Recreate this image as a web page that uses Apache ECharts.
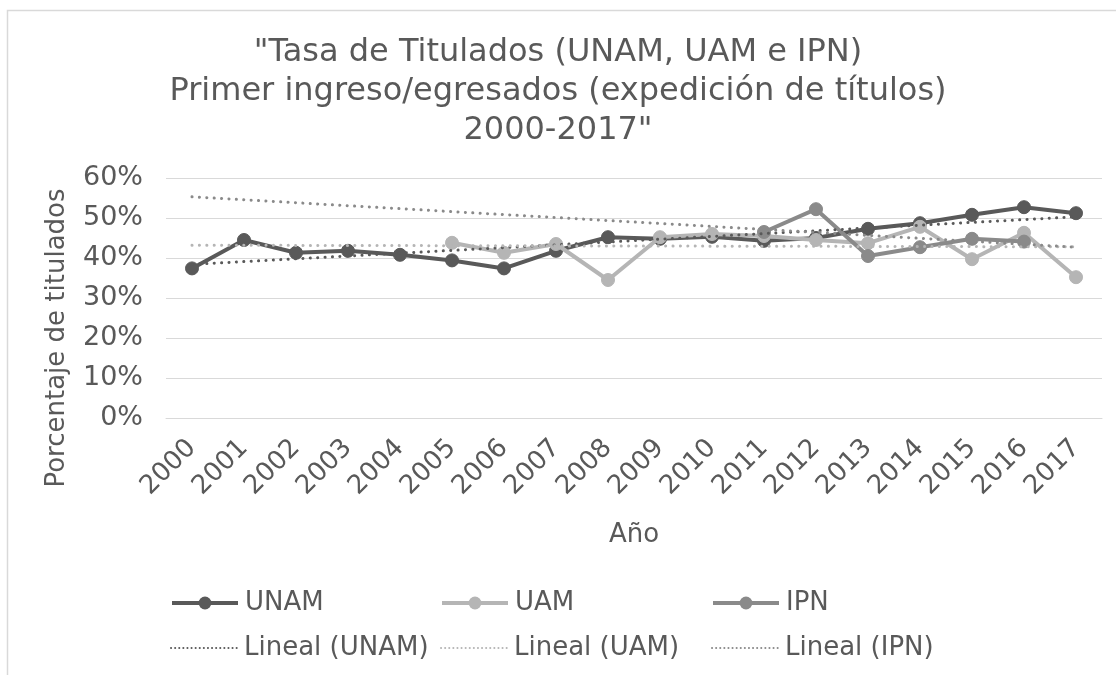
<!DOCTYPE html>
<html><head><meta charset="utf-8">
<script src="https://cdn.jsdelivr.net/npm/echarts@6/dist/echarts.min.js"></script>
<style>html,body{margin:0;padding:0;background:#fff}#c{width:1116px;height:675px}</style>
</head><body><div id="c"></div>
<script>
// ---- data (percent) ----
const years = ['2000','2001','2002','2003','2004','2005','2006','2007','2008','2009','2010','2011','2012','2013','2014','2015','2016','2017'];
const unam = [37.4, 44.5, 41.3, 41.8, 40.8, 39.4, 37.4, 41.8, 45.2, 44.8, 45.3, 44.3, 45.0, 47.3, 48.7, 50.8, 52.7, 51.2];
const uam  = [null, null, null, null, null, 43.8, 41.3, 43.5, 34.5, 45.2, 46.0, 45.5, 44.5, 43.7, 47.8, 39.7, 46.3, 35.2];
const ipn  = [null, null, null, null, null, null, null, null, null, null, null, 46.5, 52.2, 40.5, 42.7, 44.8, 44.1, null];
// linear trend lines: value at 2000 and at 2017
const trendUNAM = [38.4, 50.3];
const trendUAM  = [43.2, 42.8];
const trendIPN  = [55.3, 42.7];
const seriesNames = ['UNAM', 'UAM', 'IPN'];
const trendNames = ['Lineal (UNAM)', 'Lineal (UAM)', 'Lineal (IPN)'];

const FONT = 'DejaVu Sans';
const TXT = '#595959';
const colors = ['#595959', '#b5b5b5', '#8a8a8a'];
const DOT = [0.1, 7.3];

function trendData(ends) {
  const a = years.map(() => null);
  a[0] = ends[0];
  a[a.length - 1] = ends[1];
  return a;
}

const chart = echarts.init(document.getElementById('c'), null, {renderer: 'canvas'});

const mainSeries = [unam, uam, ipn].map((d, i) => ({
  name: seriesNames[i], type: 'line', data: d,
  symbol: 'circle', symbolSize: 13, showSymbol: true,
  itemStyle: {color: colors[i], borderColor: colors[i]},
  lineStyle: {color: colors[i], width: 4},
  z: 3 + i, animation: false
}));
const trendSeries = [trendUNAM, trendUAM, trendIPN].map((d, i) => ({
  name: trendNames[i], type: 'line', data: trendData(d), connectNulls: true,
  symbol: 'none', showSymbol: false,
  itemStyle: {color: colors[i]},
  lineStyle: {color: colors[i], width: 3, type: DOT, cap: 'round'},
  z: 10, animation: false
}));

const legendPos = [[170, 590], [440, 590], [711, 590], [170, 635], [440, 635], [711, 635]];
const legends = [];
seriesNames.forEach((n, i) => legends.push({
  data: [{name: n, lineStyle: {color: colors[i], width: 4}, itemStyle: {color: colors[i]}}],
  left: legendPos[i][0], top: legendPos[i][1], padding: 0,
  itemWidth: 66, itemHeight: 16, itemGap: 0,
  textStyle: {fontFamily: FONT, fontSize: 26, color: TXT, padding: [0, 0, 0, 2]},
  selectedMode: false
}));
trendNames.forEach((n, i) => legends.push({
  data: [{name: n, lineStyle: {color: colors[i], width: 2, type: [0.1, 4], cap: 'round'}, itemStyle: {opacity: 0}}],
  left: legendPos[i + 3][0], top: legendPos[i + 3][1], padding: 0,
  itemWidth: 66, itemHeight: 16, itemGap: 0,
  textStyle: {fontFamily: FONT, fontSize: 26, color: TXT, padding: [0, 0, 0, 2]},
  selectedMode: false
}));

chart.setOption({
  animation: false,
  backgroundColor: '#fff',
  title: {
    text: '"Tasa de Titulados (UNAM, UAM e IPN)\nPrimer ingreso/egresados (expedición de títulos)\n2000-2017"',
    left: 'center', top: 28,
    textStyle: {fontFamily: FONT, fontSize: 32, fontWeight: 'normal', color: TXT, lineHeight: 39}
  },
  legend: legends,
  grid: {left: 166, right: 14, top: 178, bottom: 257, containLabel: false},
  xAxis: {
    type: 'category', data: years, boundaryGap: true,
    name: 'Año', nameLocation: 'middle', nameGap: 104,
    nameTextStyle: {fontFamily: FONT, fontSize: 26, color: TXT},
    axisLine: {show: true, lineStyle: {color: '#d9d9d9', width: 1}},
    axisTick: {show: false},
    axisLabel: {interval: 0, rotate: 45, fontFamily: FONT, fontSize: 26, color: TXT, margin: 26}
  },
  yAxis: {
    type: 'value', min: 0, max: 60, interval: 10,
    axisLine: {show: false}, axisTick: {show: false},
    splitLine: {lineStyle: {color: '#d9d9d9', width: 1}},
    axisLabel: {formatter: '{value}%', fontFamily: FONT, fontSize: 27, color: TXT, margin: 23}
  },
  graphic: [
    {type: 'rect', shape: {x: 7.5, y: 10.5, width: 1200, height: 800},
     style: {fill: 'none', stroke: '#d9d9d9', lineWidth: 1.5}, silent: true, z: -10},
    {type: 'text', x: 57, y: 338, rotation: Math.PI / 2,
     style: {text: 'Porcentaje de titulados', fontFamily: FONT, fontSize: 26, fill: TXT,
             align: 'center', verticalAlign: 'middle'}}
  ],
  series: mainSeries.concat(trendSeries)
});
</script>
</body></html>
